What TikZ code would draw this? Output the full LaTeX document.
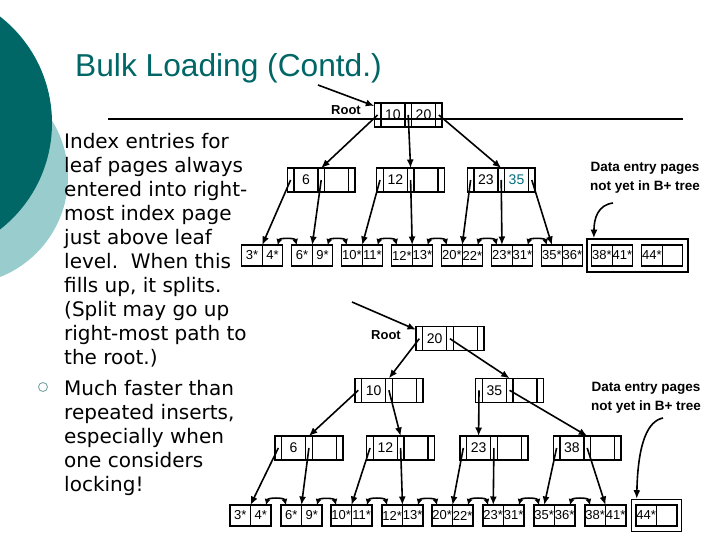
\documentclass[tikz,border=0pt]{standalone}
\usepackage{fontspec}
\setmainfont{Liberation Sans}
\newfontfamily\bodyfont{DejaVu Sans}
\usetikzlibrary{positioning,arrows.meta,fit}
\definecolor{slideteal}{RGB}{0,102,102}
\definecolor{slidelight}{RGB}{153,204,204}
\definecolor{keyteal}{RGB}{0,110,125}
\definecolor{bulletgray}{RGB}{110,155,155}
\tikzset{
  ptr/.style={draw, line width=1.4pt, minimum width=6.6pt, minimum height=24pt, inner sep=0pt, outer sep=0pt},
  key/.style={ptr, minimum width=24pt, font=\fontsize{14}{14}\selectfont},
  entry/.style={draw, line width=1.4pt, minimum width=20.5pt, minimum height=21pt, inner sep=0pt, outer sep=0pt, font=\fontsize{13}{13}\selectfont},
  pagegroup/.style={draw, line width=1.6pt, inner xsep=5pt, inner ysep=6pt},
  ptrarrow/.style={-{Latex[length=8.5pt,width=7pt]}, line width=1.6pt},
  sibling/.style={{Latex[length=6pt,width=6pt]}-{Latex[length=6pt,width=6pt]}, line width=1.6pt},
  rootlabel/.style={font=\bfseries\fontsize{13}{13}\selectfont},
  note/.style={font=\bfseries\fontsize{13.5}{19}\selectfont, align=center},
}
% index page: name, north west corner, key 1, key 2
\newcommand\indexpage[4]{%
  \node[ptr, anchor=north west] (#1p1) at (#2) {};
  \node[key, right=0 of #1p1] (#1k1) {#3};
  \node[ptr, right=0 of #1k1] (#1p2) {};
  \node[key, right=0 of #1p2] (#1k2) {#4};
  \node[ptr, right=0 of #1k2] (#1p3) {};}
% leaf page: name, north west corner, entry 1, entry 2
\newcommand\leafpage[4]{%
  \node[entry, anchor=north west] (#1a) at (#2) {#3};
  \node[entry, right=0 of #1a] (#1b) {#4};}

\begin{document}
\begin{tikzpicture}[x=1pt, y=-1pt]
  \useasboundingbox (0,0) rectangle (720,540);

  \begin{scope}
    \clip (0,0) rectangle (720,540);
    \fill[slidelight] (-39.5,177) circle (107.5pt);
    \fill[slideteal] (-83,123) circle (135pt);
  \end{scope}

  \node[anchor=base west, inner sep=0pt, text=slideteal, font=\fontsize{31.7}{31.7}\selectfont] (title) at (75,77) {Bulk Loading (Contd.)};

  \node[anchor=base west, inner sep=0pt] (para1) at (64,149) {\parbox[t]{240pt}{\raggedright\bodyfont\fontsize{20}{24}\selectfont
    Index entries for\\ leaf pages always\\ entered into right-\\ most index page\\ just above leaf\\ level.\ \ When this\\ fills up, it splits.\\ (Split may go up\\ right-most path to\\ the root.)}};
  \draw[bulletgray, line width=0.8pt] (43,387) circle (4.5pt);
  \node[anchor=base west, inner sep=0pt] (para2) at (64,395) {\parbox[t]{240pt}{\raggedright\bodyfont\fontsize{20}{24}\selectfont
    Much faster than\\ repeated inserts,\\ especially when\\ one considers\\ locking!}};

  % before the split
  \coordinate (rule1) at (108,119);
  \coordinate (rule2) at (683,119);
  \draw[line width=1.6pt] (rule1) -- (rule2);

  \indexpage{r1}{374.3,103}{10}{20}
  \indexpage{a6}{287.3,168}{6}{}
  \indexpage{a12}{376.7,168}{12}{}
  \indexpage{a23}{467.3,168}{23}{\textcolor{keyteal}{35}}

  \leafpage{t3}{241.7,245}{3*}{4*}
  \leafpage{t6}{291.7,245}{6*}{9*}
  \leafpage{t10}{341.7,245}{10*}{11*}
  \leafpage{t12}{391.7,245}{12*}{13*}
  \leafpage{t20}{441.7,245}{20*}{22*}
  \leafpage{t23}{491.7,245}{23*}{31*}
  \leafpage{t35}{541.7,245}{35*}{36*}
  \leafpage{t38}{591.7,245}{38*}{41*}
  \leafpage{t44}{641.7,245}{44*}{}
  \node[pagegroup, fit=(t38a)(t44b)] (grp1) {};

  \node[rootlabel] (root1) at (346,110) {Root};
  \coordinate (rootin1) at (318,85);
  \draw[ptrarrow] (rootin1) -- ([yshift=-3pt]r1p1.north west);

  \draw[ptrarrow] (r1p1.center) -- (a6p2.north);
  \draw[ptrarrow] (r1p2.center) -- (a12p2.north);
  \draw[ptrarrow] (r1p3.center) -- (a23p2.north);
  \draw[ptrarrow] (a6p1.center) -- (t3a.north east);
  \draw[ptrarrow] (a6p2.center) -- (t6a.north east);
  \draw[ptrarrow] (a12p1.center) -- (t10a.north east);
  \draw[ptrarrow] (a12p2.center) -- (t12a.north east);
  \draw[ptrarrow] (a23p1.center) -- (t20a.north east);
  \draw[ptrarrow] (a23p2.center) -- (t23a.north);
  \draw[ptrarrow] (a23p3.center) -- (t35a.north);

  \draw[sibling] ([xshift=-5pt]t3b.north east) to[bend left=75] ([xshift=5pt]t6a.north west);
  \draw[sibling] ([xshift=-5pt]t6b.north east) to[bend left=75] ([xshift=5pt]t10a.north west);
  \draw[sibling] ([xshift=-5pt]t10b.north east) to[bend left=75] ([xshift=5pt]t12a.north west);
  \draw[sibling] ([xshift=-5pt]t12b.north east) to[bend left=75] ([xshift=5pt]t20a.north west);
  \draw[sibling] ([xshift=-5pt]t20b.north east) to[bend left=75] ([xshift=5pt]t23a.north west);
  \draw[sibling] ([xshift=-5pt]t23b.north east) to[bend left=75] ([xshift=5pt]t35a.north west);

  \node[note] (dep1) at (645,178) {Data entry pages\\ not yet in B+ tree};
  \coordinate (bend1) at (613,203);
  \draw[ptrarrow] (bend1) .. controls (598,205) and (594,218) .. ([xshift=8pt]grp1.north west);

  % after the split
  \indexpage{r2}{416,326.7}{20}{}
  \indexpage{b10}{355,378.3}{10}{}
  \indexpage{b35}{475.7,378.3}{35}{}
  \indexpage{c6}{275,436}{6}{}
  \indexpage{c12}{366.7,436}{12}{}
  \indexpage{c23}{460,436}{23}{}
  \indexpage{c38}{553.3,436}{38}{}

  \leafpage{u3}{230,505}{3*}{4*}
  \leafpage{u6}{281,505}{6*}{9*}
  \leafpage{u10}{331,505}{10*}{11*}
  \leafpage{u12}{382,505}{12*}{13*}
  \leafpage{u20}{432,505}{20*}{22*}
  \leafpage{u23}{483,505}{23*}{31*}
  \leafpage{u35}{534,505}{35*}{36*}
  \leafpage{u38}{585,505}{38*}{41*}
  \leafpage{u44}{636,505}{44*}{}
  \node[pagegroup, inner xsep=4.5pt, inner ysep=5.5pt, fit=(u44a)(u44b)] (grp2) {};

  \node[rootlabel] (root2) at (386,335) {Root};
  \coordinate (rootin2) at (352,302);
  \draw[ptrarrow] (rootin2) -- ([yshift=-3pt]r2p1.north west);

  \draw[ptrarrow] (r2p1.center) -- (b10p2.north);
  \draw[ptrarrow] (r2p2.center) -- (b35p2.north);
  \draw[ptrarrow] (b10p1.center) -- (c6p2.north);
  \draw[ptrarrow] (b10p2.center) -- (c12p2.north);
  \draw[ptrarrow] (b35p1.center) -- (c23k1.north);
  \draw[ptrarrow] (b35p2.center) -- (c38p2.north);
  \draw[ptrarrow] (c6p1.center) -- (u3a.north east);
  \draw[ptrarrow] (c6p2.center) -- (u6a.north east);
  \draw[ptrarrow] (c12p1.center) -- (u10a.north east);
  \draw[ptrarrow] (c12p2.center) -- (u12a.north east);
  \draw[ptrarrow] (c23p1.center) -- (u20a.north east);
  \draw[ptrarrow] (c23p2.center) -- (u23a.north);
  \draw[ptrarrow] (c38p1.center) -- (u35a.north);
  \draw[ptrarrow] (c38p2.center) -- (u38a.north east);

  \draw[sibling] ([xshift=-5pt]u3b.north east) to[bend left=75] ([xshift=5pt]u6a.north west);
  \draw[sibling] ([xshift=-5pt]u6b.north east) to[bend left=75] ([xshift=5pt]u10a.north west);
  \draw[sibling] ([xshift=-5pt]u10b.north east) to[bend left=75] ([xshift=5pt]u12a.north west);
  \draw[sibling] ([xshift=-5pt]u12b.north east) to[bend left=75] ([xshift=5pt]u20a.north west);
  \draw[sibling] ([xshift=-5pt]u20b.north east) to[bend left=75] ([xshift=5pt]u23a.north west);
  \draw[sibling] ([xshift=-5pt]u23b.north east) to[bend left=75] ([xshift=5pt]u35a.north west);
  \draw[sibling] ([xshift=-5pt]u35b.north east) to[bend left=75] ([xshift=5pt]u38a.north west);

  \node[note] (dep2) at (646,397.5) {Data entry pages\\ not yet in B+ tree};
  \coordinate (bend2) at (663,418);
  \draw[ptrarrow] (bend2) .. controls (648,421) and (638,442) .. ([xshift=6pt]grp2.north west);
\end{tikzpicture}
\end{document}
